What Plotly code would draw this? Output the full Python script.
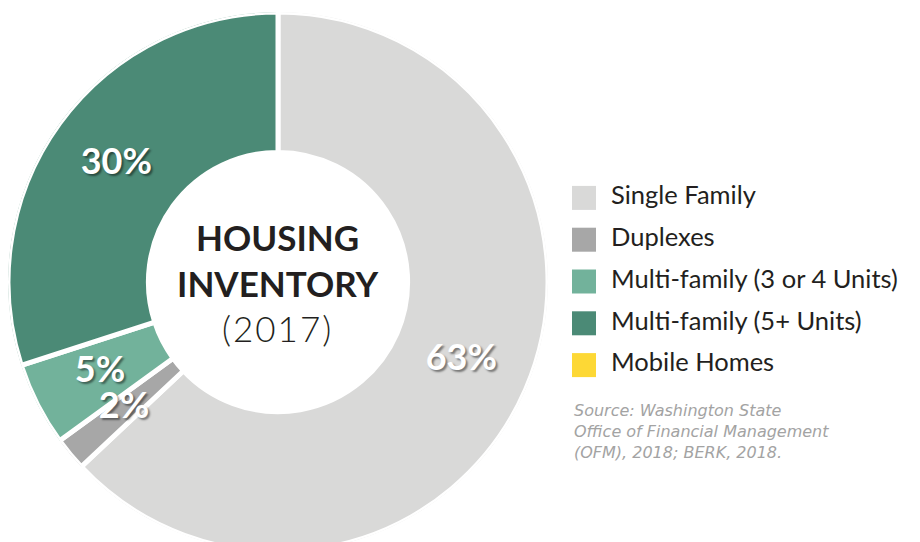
import plotly.graph_objects as go

# data
categories = ["Single Family", "Duplexes", "Multi-family (3 or 4 Units)",
              "Multi-family (5+ Units)", "Mobile Homes"]
shares = [63, 2, 5, 30, 0]
share_labels = ["63%", "2%", "5%", "30%", ""]
colors = ["#d9d9d8", "#a7a7a7", "#72b29b", "#4b8a76", "#fdd835"]

HOLE = 0.48

# the page body adds an 8px margin, so figure coords are screen - 8
legend_x = [576] * len(categories)
text_x = [603] * len(categories)

W, H = 920, 544
TOP = 4
PH = H - TOP
pie_dom = dict(x=[0, 540 / W], y=[0, 1])

# slice widths and mid angles (clockwise from 12 o'clock)
total = sum(shares)
widths = [360 * s / total for s in shares]
mid_deg, run = [], 0
for w in widths:
    mid_deg.append(run + w / 2)
    run += w

fig = go.Figure()

# donut as polar bars
fig.add_trace(go.Barpolar(
    r=[1 - HOLE] * len(shares),
    base=HOLE,
    theta=mid_deg,
    width=widths,
    marker=dict(color=colors, line=dict(color="white", width=5)),
    customdata=categories,
    hovertemplate="%{customdata}<extra></extra>",
    showlegend=False,
))

# percent labels at the middle of the ring
fig.add_trace(go.Scatterpolar(
    r=[(1 + HOLE) / 2] * len(shares),
    theta=mid_deg,
    mode="text",
    text=share_labels,
    textfont=dict(family="Lato", size=36, color="white", weight="bold",
                  shadow="2px 2px 2px rgba(0,0,0,0.45)"),
    showlegend=False, hoverinfo="skip",
))

# legend built as a small scatter
fig.add_trace(go.Scatter(
    x=legend_x, y=categories,
    mode="markers",
    marker=dict(symbol="square", size=24, color=colors, line=dict(width=0)),
    showlegend=False, hoverinfo="skip",
))
fig.add_trace(go.Scatter(
    x=text_x, y=categories,
    mode="text",
    text=categories,
    textposition="middle right",
    textfont=dict(family="Lato", size=25.5, color="#231f20"),
    showlegend=False, hoverinfo="skip",
))

# centre title
fig.add_annotation(
    text="<b>HOUSING</b><br><b>INVENTORY</b><br>"
         "<span style='font-weight:300;letter-spacing:2px'>(2017)</span>",
    xref="paper", yref="paper",
    x=sum(pie_dom["x"]) / 2, y=0.5,
    xanchor="center", yanchor="middle", align="center",
    showarrow=False,
    font=dict(family="Lato", size=35, color="#231f20"),
)

fig.add_annotation(
    text="Source: Washington State<br>Office of Financial Management<br>(OFM), 2018; BERK, 2018.",
    xref="paper", yref="paper",
    x=564 / W, y=(H - 391) / PH,
    xanchor="left", yanchor="top", align="left",
    showarrow=False,
    font=dict(family="DejaVu Sans", size=16, color="#a3a3a3", style="italic"),
)

fig.update_layout(
    width=W, height=H,
    margin=dict(l=0, r=0, t=TOP, b=0),
    paper_bgcolor="white", plot_bgcolor="rgba(0,0,0,0)",
    polar=dict(
        domain=pie_dom,
        bgcolor="rgba(0,0,0,0)",
        radialaxis=dict(range=[0, 1], visible=False),
        angularaxis=dict(rotation=90, direction="clockwise", visible=False),
    ),
    xaxis=dict(range=[0, W], domain=[0, 1], visible=False, fixedrange=True),
    yaxis=dict(range=[4.5, -0.5], domain=[(H - 378) / PH, (H - 169) / PH],
               visible=False, fixedrange=True),
)

fig.write_html("out.html")
